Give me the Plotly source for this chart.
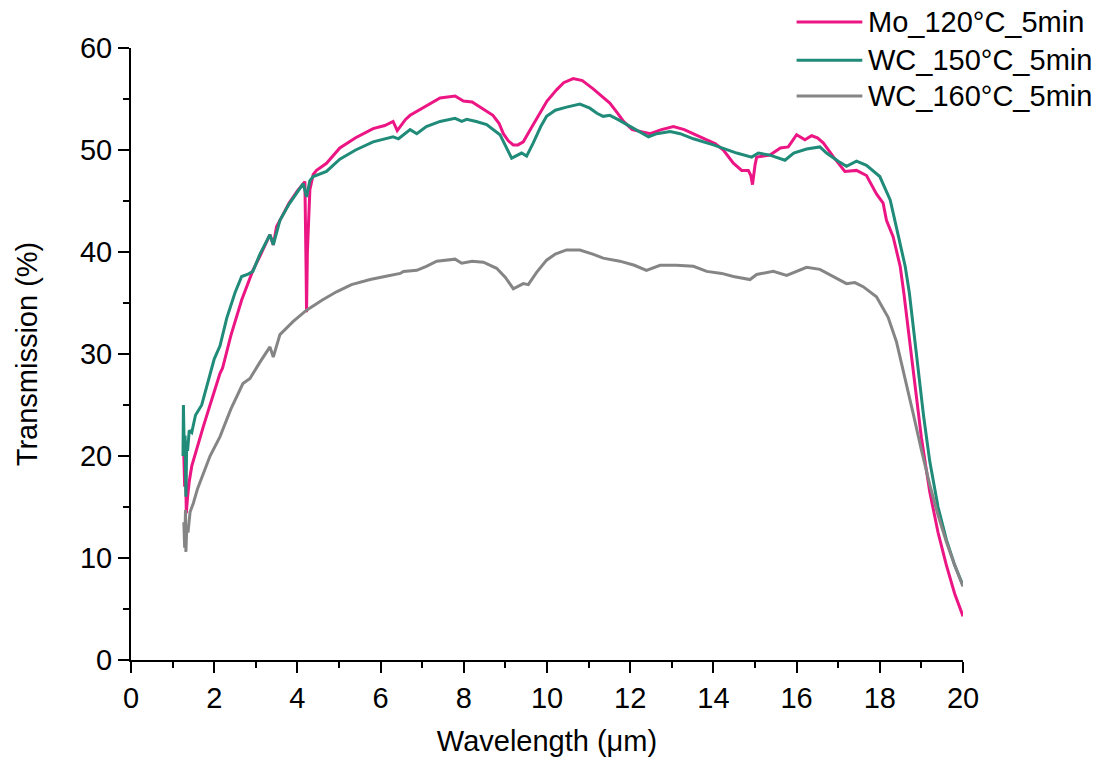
import plotly.graph_objects as go

# Wavelength (µm) and transmission (%) for each sample
mo120_wl = [1.27, 1.29, 1.31, 1.33, 1.36, 1.40, 1.46, 1.60, 1.74, 1.90, 2.00, 2.14, 2.20, 2.40,
            2.66, 2.80, 2.93, 3.10, 3.34, 3.42, 3.50, 3.58, 3.80, 4.00, 4.18, 4.21, 4.22, 4.24,
            4.30, 4.38, 4.46, 4.70, 5.02, 5.40, 5.82, 6.10, 6.30, 6.40, 6.47, 6.60, 6.71, 7.00,
            7.43, 7.79, 7.99, 8.20, 8.39, 8.70, 8.85, 8.95, 9.07, 9.19, 9.30, 9.43, 9.60, 9.83,
            10.00, 10.23, 10.40,
            10.63, 10.85, 11.11, 11.35, 11.51, 11.70, 11.84, 12.05, 12.24, 12.48, 12.75, 13.04,
            13.30, 13.52, 13.84, 14.05, 14.24, 14.48, 14.68, 14.84, 14.90, 14.94, 15.00, 15.04,
            15.36, 15.61, 15.80, 16.00, 16.20, 16.36, 16.50, 16.64, 16.89, 17.16, 17.44, 17.68,
            17.92, 18.08, 18.16, 18.32, 18.49, 18.58, 18.80, 19.00, 19.20, 19.40, 19.60, 19.80,
            20.00]
mo120_t = [20.0, 17.0, 19.5, 14.4, 16.0, 17.5, 19.0, 21.0, 22.9, 25.0, 26.3, 28.1, 28.6, 31.8,
           35.3, 36.8, 38.2, 39.6, 41.7, 40.7, 42.5, 43.1, 44.8, 46.0, 46.9, 38.0, 34.1, 40.0,
           46.1, 47.6, 48.0, 48.7, 50.2, 51.2, 52.1, 52.4, 52.8, 51.9, 52.3, 53.0, 53.4, 54.1,
           55.1, 55.3, 54.8, 54.7, 54.2, 53.4, 52.6, 51.6, 50.9, 50.5, 50.5, 50.8, 52.0, 53.6,
           54.8, 55.9, 56.6,
           57.0, 56.8, 56.0, 55.2, 54.6, 53.6, 52.8, 52.0, 51.8, 51.6, 52.0, 52.3,
           52.0, 51.6, 51.0, 50.6, 50.0, 48.7, 48.0, 48.0, 47.5, 46.6, 48.5, 49.3,
           49.5, 50.2, 50.3, 51.5, 51.0, 51.4, 51.2, 50.7, 49.3, 47.9, 48.0, 47.5,
           45.7, 44.8, 43.1, 41.5, 38.6, 35.9, 28.5, 21.8, 16.5, 12.5, 9.3, 6.5,
           4.3]

wc150_wl = [1.25, 1.26, 1.28, 1.30, 1.32, 1.34, 1.36, 1.40, 1.46, 1.55, 1.70, 1.90, 2.00, 2.14,
            2.30, 2.50, 2.66, 2.80, 2.93, 3.10, 3.34, 3.42, 3.58, 3.80, 4.00, 4.14, 4.22, 4.30,
            4.38, 4.70, 5.02, 5.40, 5.82, 6.30, 6.43, 6.71, 6.87, 7.10, 7.43, 7.79, 7.95, 8.07,
            8.30, 8.55, 8.87, 9.00, 9.15, 9.39, 9.51, 9.67, 9.85, 9.99, 10.20, 10.47, 10.79,
            11.03, 11.20, 11.35, 11.51, 11.70, 11.91, 12.20, 12.44, 12.64, 12.96, 13.20, 13.52,
            14.00, 14.56, 14.92, 15.08, 15.36, 15.60, 15.72, 15.93, 16.24, 16.56, 16.72, 17.00,
            17.20, 17.44, 17.68, 18.00, 18.25, 18.45, 18.61, 18.71, 18.90, 19.05, 19.20, 19.40,
            19.60, 19.80, 20.00]
wc150_t = [20.0, 25.0, 20.5, 22.0, 16.0, 21.5, 20.5, 22.5, 22.3, 24.0, 25.0, 28.0, 29.5, 30.8,
           33.5, 36.0, 37.6, 37.8, 38.1, 39.8, 41.7, 40.7, 43.1, 44.7, 45.9, 46.7, 45.4, 47.0,
           47.4, 47.9, 49.1, 50.0, 50.8, 51.3, 51.1, 52.0, 51.6, 52.3, 52.8, 53.1, 52.8, 53.0,
           52.8, 52.5, 51.5, 50.5, 49.2, 49.7, 49.4, 50.7, 52.3, 53.3, 53.9, 54.2, 54.5,
           54.1, 53.6, 53.3, 53.4, 53.0, 52.5, 51.8, 51.3, 51.6, 51.8, 51.6, 51.1,
           50.5, 49.7, 49.3, 49.7, 49.5, 49.2, 49.0, 49.7, 50.1, 50.3, 49.7, 48.9,
           48.4, 48.9, 48.5, 47.4, 45.1, 41.5, 38.6, 36.0, 29.5, 24.0, 19.5, 15.0,
           11.8, 9.3, 7.3]

wc160_wl = [1.27, 1.29, 1.31, 1.32, 1.34, 1.37, 1.42, 1.50, 1.60, 1.74, 1.90, 2.14, 2.40, 2.69,
            2.86, 3.10, 3.34, 3.42, 3.58, 3.90, 4.22, 4.60, 4.94, 5.30, 5.75, 6.10, 6.47, 6.55,
            6.87, 7.10, 7.35, 7.79, 7.95, 8.20, 8.47, 8.79, 9.00, 9.19, 9.43, 9.55, 9.75, 9.99,
            10.20, 10.47, 10.79, 11.10, 11.35, 11.75, 12.10, 12.39, 12.72, 13.11, 13.52, 13.84,
            14.20, 14.48, 14.88, 15.04, 15.44, 15.76, 16.24, 16.56, 16.90, 17.20, 17.40, 17.60,
            17.92, 18.20, 18.40, 18.60, 18.80, 19.00, 19.20, 19.40, 19.60, 19.80, 20.00]
wc160_t = [13.5, 11.0, 14.7, 10.6, 13.0, 12.5, 14.5, 15.4, 16.8, 18.3, 20.0, 21.9, 24.6, 27.1,
           27.6, 29.2, 30.7, 29.7, 31.9, 33.2, 34.3, 35.3, 36.1, 36.8, 37.3, 37.6, 37.9, 38.1,
           38.2, 38.6, 39.1, 39.3, 38.9, 39.1, 39.0, 38.4, 37.5, 36.4, 36.9, 36.8, 38.0, 39.2,
           39.8, 40.2, 40.2, 39.8, 39.4, 39.1, 38.7, 38.2, 38.7, 38.7, 38.6, 38.1,
           37.9, 37.6, 37.3, 37.8, 38.1, 37.7, 38.5, 38.3, 37.6, 36.9, 37.0, 36.6,
           35.6, 33.6, 31.2, 27.8, 24.2, 20.6, 17.2, 14.2, 11.6, 9.3, 7.2]

series_names = ["Mo_120°C_5min", "WC_150°C_5min", "WC_160°C_5min"]
series_colors = ["#EC1584", "#1F8B78", "#858585"]
series_x = [mo120_wl, wc150_wl, wc160_wl]
series_y = [mo120_t, wc150_t, wc160_t]

FONT = "Liberation Sans, Arial, sans-serif"
FSIZE = 29

fig = go.Figure()
for name, color, xs, ys in zip(series_names, series_colors, series_x, series_y):
    fig.add_trace(go.Scatter(x=xs, y=ys, mode="lines", name=name,
                             line=dict(color=color, width=3), showlegend=False))

# Legend drawn at the upper right, outside the plotting area
legend_rows_y = [1.0425, 0.980, 0.9216]
for name, color, ly in zip(series_names, series_colors, legend_rows_y):
    fig.add_shape(type="line", xref="paper", yref="paper",
                  x0=0.800, x1=0.879, y0=ly, y1=ly,
                  line=dict(color=color, width=3))
    fig.add_annotation(xref="paper", yref="paper", x=0.883, y=ly,
                       text=name, showarrow=False, xanchor="left", yanchor="middle",
                       font=dict(family=FONT, size=FSIZE, color="#000000"))

axis_common = dict(
    showgrid=False, zeroline=False, showline=True, linecolor="#000000", linewidth=2,
    ticks="outside", ticklen=11, tickwidth=2, tickcolor="#000000",
    tickfont=dict(family=FONT, size=FSIZE, color="#000000"),
    automargin=False,
)

fig.update_xaxes(
    range=[0, 20], dtick=2, tick0=0,
    minor=dict(dtick=1, ticks="outside", ticklen=6, tickwidth=2, tickcolor="#000000"),
    title=dict(text="Wavelength (μm)", font=dict(family=FONT, size=FSIZE, color="#000000"),
               standoff=18),
    **axis_common,
)
fig.update_yaxes(
    range=[0, 60], dtick=10, tick0=0,
    minor=dict(dtick=5, ticks="outside", ticklen=6, tickwidth=2, tickcolor="#000000"),
    title=dict(text="Transmission (%)", font=dict(family=FONT, size=FSIZE, color="#000000"),
               standoff=34),
    **axis_common,
)

fig.update_layout(
    width=1099, height=760,
    margin=dict(l=131, r=136, t=48, b=100),
    paper_bgcolor="#FFFFFF", plot_bgcolor="#FFFFFF",
    font=dict(family=FONT, size=FSIZE, color="#000000"),
)

fig.write_html("out.html")
